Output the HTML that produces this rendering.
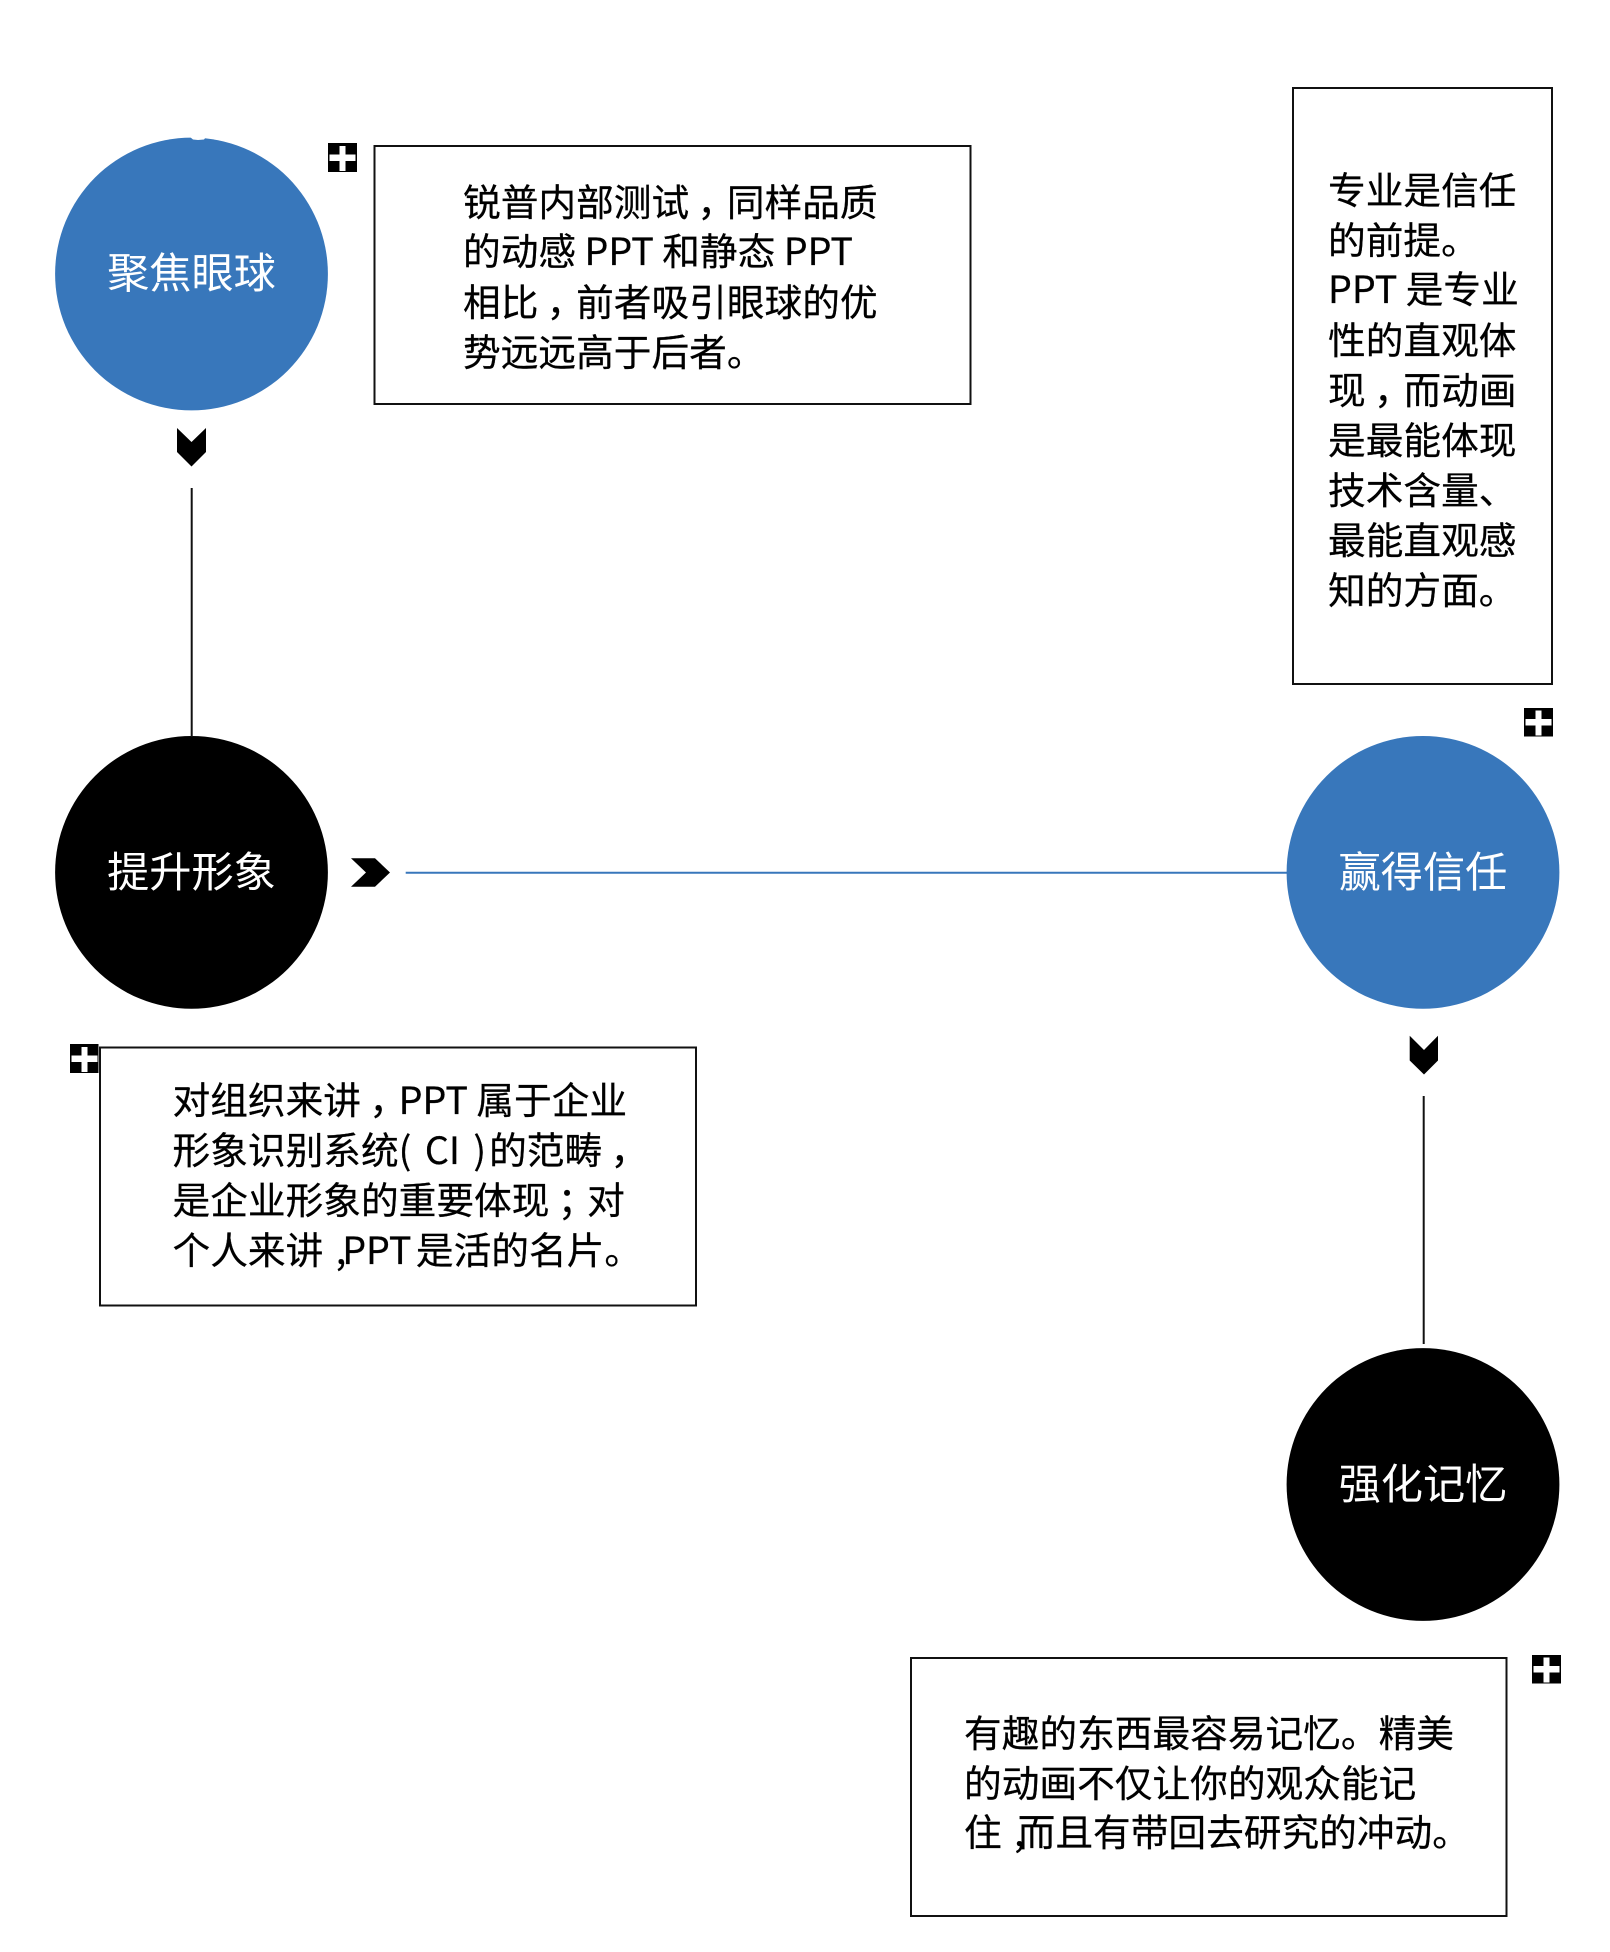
<!DOCTYPE html>
<html lang="zh-CN">
<head>
<meta charset="utf-8">
<style>
html,body{margin:0;padding:0;background:#fff}
#p{position:relative;width:1610px;height:1952px;overflow:hidden;background:#fff;font-family:"Noto Sans CJK SC","Liberation Sans",sans-serif}
svg{position:absolute;left:0;top:0}
.t{position:absolute;white-space:pre;font-size:37.7px;line-height:50px;height:50px;color:#000;-webkit-text-stroke:.25px #000}
.l{position:absolute;width:272px;text-align:center;white-space:pre;font-size:42.2px;line-height:60px;height:60px;color:#fff}
.c{position:relative;left:.22em}
</style>
</head>
<body>
<div id="p">
<svg width="1610" height="1952" viewBox="0 0 1610 1952">
  <circle cx="191.5" cy="274" r="136.4" fill="#3877bb"/>
  <path d="M190 137 L193 139.5 L198 140 L204 139.5 L206 137 Z" fill="#fff"/>
  <circle cx="191.5" cy="872.4" r="136.4" fill="#000"/>
  <circle cx="1423" cy="872.4" r="136.4" fill="#3877bb"/>
  <circle cx="1423" cy="1484.5" r="136.4" fill="#000"/>

  <line x1="191.7" y1="488" x2="191.7" y2="737" stroke="#111" stroke-width="2"/>
  <line x1="405.7" y1="872.7" x2="1288" y2="872.7" stroke="#3877bb" stroke-width="2"/>
  <line x1="1423.7" y1="1096" x2="1423.7" y2="1344" stroke="#111" stroke-width="2"/>

  <polygon points="177,428 191.5,442 206,428 206,452 191.5,466.5 177,452" fill="#000"/>
  <polygon points="1409.7,1035.7 1424,1050 1438,1035.7 1438,1060.5 1424,1074.5 1409.7,1060.5" fill="#000"/>
  <polygon points="351,858.3 375,858.3 390,872.5 375,886.7 351,886.7 366,872.5" fill="#000"/>

  <g fill="none" stroke="#111" stroke-width="2">
    <rect x="374.5" y="146" width="596" height="258"/>
    <rect x="1293" y="88" width="259" height="596"/>
    <rect x="100" y="1047.5" width="596" height="258"/>
    <rect x="911" y="1658" width="595.5" height="258"/>
  </g>

  <g>
    <rect x="328" y="143" width="29" height="29" fill="#000"/>
    <rect x="329.5" y="154.5" width="26" height="6.5" fill="#fff"/>
    <rect x="339.5" y="146" width="6" height="25" fill="#fff"/>
  </g>
  <g>
    <rect x="1524" y="708" width="29" height="28.5" fill="#000"/>
    <rect x="1525.5" y="719" width="26" height="6.5" fill="#fff"/>
    <rect x="1535.5" y="710.5" width="6" height="25" fill="#fff"/>
  </g>
  <g>
    <rect x="70" y="1044" width="28.5" height="29" fill="#000"/>
    <rect x="71.5" y="1055.5" width="26" height="6.5" fill="#fff"/>
    <rect x="81.5" y="1047" width="6" height="25" fill="#fff"/>
  </g>
  <g>
    <rect x="1532" y="1655" width="29" height="28.5" fill="#000"/>
    <rect x="1533.5" y="1666" width="26" height="6.5" fill="#fff"/>
    <rect x="1543.5" y="1657.5" width="6" height="25" fill="#fff"/>
  </g>
</svg>

<div class="l" style="left:55.5px;top:241px">聚焦眼球</div>
<div class="l" style="left:55.5px;top:840px">提升形象</div>
<div class="l" style="left:1287px;top:840px">赢得信任</div>
<div class="l" style="left:1287px;top:1452px">强化记忆</div>

<div class="t" style="left:463px;top:175px">锐普内部测试<span class="c">，</span>同样品质</div>
<div class="t" style="left:463px;top:224px">的动感 PPT 和静态 PPT</div>
<div class="t" style="left:463px;top:275px">相比<span class="c">，</span>前者吸引眼球的优</div>
<div class="t" style="left:463px;top:325px">势远远高于后者。</div>

<div class="t" style="left:1328px;top:163px">专业是信任</div>
<div class="t" style="left:1328px;top:213px">的前提。</div>
<div class="t" style="left:1328px;top:262px">PPT 是专业</div>
<div class="t" style="left:1328px;top:313px">性的直观体</div>
<div class="t" style="left:1328px;top:363px">现<span class="c">，</span>而动画</div>
<div class="t" style="left:1328px;top:413px">是最能体现</div>
<div class="t" style="left:1328px;top:463px">技术含量、</div>
<div class="t" style="left:1328px;top:513px">最能直观感</div>
<div class="t" style="left:1328px;top:563px">知的方面。</div>

<div class="t" style="left:172.5px;top:1073px">对组织来讲<span class="c">，</span>PPT 属于企业</div>
<div class="t" style="left:172.5px;top:1123px">形象识别系统<span style="word-spacing:5px">( CI )</span><span style="margin-left:3px">的范畴</span><span class="c">，</span></div>
<div class="t" style="left:172.5px;top:1173px">是企业形象的重要体现<span class="c">；</span>对</div>
<div class="t" style="left:172.5px;top:1223px">个人来讲 <span style="position:relative;left:4px">,</span>PPT<span style="margin-left:-4px"> 是活的名片。</span></div>

<div class="t" style="left:964px;top:1706px">有趣的东西最容易记忆。精美</div>
<div class="t" style="left:964px;top:1756px">的动画不仅让你的观众能记</div>
<div class="t" style="left:964px;top:1805px">住 <span style="position:relative;left:4px">,</span><span style="margin-left:-3px">而且有带回去研究的冲动。</span></div>
</div>
</body>
</html>
